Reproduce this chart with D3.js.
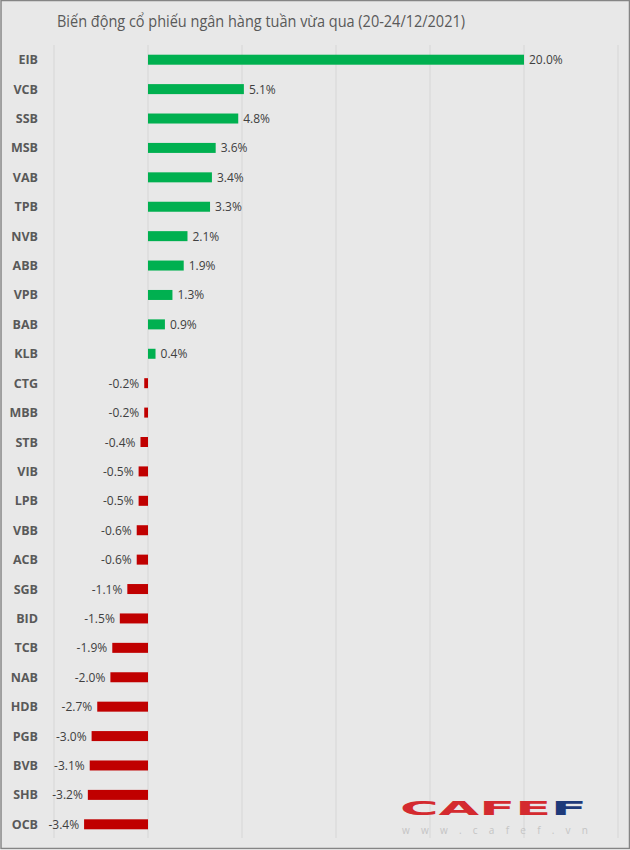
<html>
<head>
<meta charset="utf-8">
<script src="https://d3js.org/d3.v7.min.js"></script>
<style>
  body { margin: 0; background: #fff; }
  text { font-family: "Open Sans", sans-serif; }
</style>
</head>
<body>
<script>
var banks = ["EIB","VCB","SSB","MSB","VAB","TPB","NVB","ABB","VPB","BAB","KLB",
             "CTG","MBB","STB","VIB","LPB","VBB","ACB","SGB","BID","TCB","NAB",
             "HDB","PGB","BVB","SHB","OCB"];
var change = [20.0, 5.1, 4.8, 3.6, 3.4, 3.3, 2.1, 1.9, 1.3, 0.9, 0.4,
              -0.2, -0.2, -0.4, -0.5, -0.5, -0.6, -0.6, -1.1, -1.5, -1.9, -2.0,
              -2.7, -3.0, -3.1, -3.2, -3.4];
var gridTicks = [-5, 0, 5, 10, 15, 20, 25];

var width = 630, height = 850;

var svg = d3.select("body").append("svg")
  .attr("width", width)
  .attr("height", height);

svg.append("rect")
  .attr("x", 1).attr("y", 0.5)
  .attr("width", width - 1.5).attr("height", height - 2)
  .attr("fill", "#e8e8e8")
  .attr("stroke", "#858585")
  .attr("stroke-width", 1.5);

var x = d3.scaleLinear().domain([-5, 25]).range([54, 618]);
var y = d3.scalePoint().domain(banks).range([45, 839]).padding(0.5);
var barH = 10;

// gridlines
svg.append("g").selectAll("line")
  .data(gridTicks)
  .enter().append("line")
  .attr("x1", d => x(d)).attr("x2", d => x(d))
  .attr("y1", 45).attr("y2", 838)
  .attr("stroke", "#d6d6d6")
  .attr("stroke-width", 1);

// title
svg.append("text")
  .attr("x", 57).attr("y", 27)
  .attr("fill", "#595959")
  .attr("textLength", 408)
  .attr("lengthAdjust", "spacingAndGlyphs")
  .style("font-size", "17px")
  .text("Biến động cổ phiếu ngân hàng tuần vừa qua (20-24/12/2021)");

var data = banks.map((b, i) => ({ bank: b, v: change[i] }));
var fmt = v => v.toFixed(1) + "%";

// bars
svg.append("g").selectAll("rect")
  .data(data)
  .enter().append("rect")
  .attr("x", d => x(Math.min(0, d.v)))
  .attr("width", d => Math.abs(x(d.v) - x(0)))
  .attr("y", d => y(d.bank) - barH / 2)
  .attr("height", barH)
  .attr("fill", d => d.v >= 0 ? "#00b050" : "#c00000");

// value labels
svg.append("g").selectAll("text")
  .data(data)
  .enter().append("text")
  .attr("x", d => d.v >= 0 ? x(d.v) + 5 : x(d.v) - 5)
  .attr("y", d => y(d.bank) + 4.5)
  .attr("text-anchor", d => d.v >= 0 ? "start" : "end")
  .attr("fill", "#404040")
  .style("font-size", "12px")
  .text(d => fmt(d.v));

// category labels
svg.append("g").selectAll("text")
  .data(banks)
  .enter().append("text")
  .attr("x", 38)
  .attr("y", d => y(d) + 4.5)
  .attr("text-anchor", "end")
  .attr("fill", "#595959")
  .style("font-size", "12.5px")
  .style("font-weight", "bold")
  .text(d => d);

// logo
var brand = svg.append("text")
  .attr("x", 400).attr("y", 815)
  .attr("textLength", 187)
  .attr("lengthAdjust", "spacingAndGlyphs")
  .style("font-family", "'DejaVu Sans', sans-serif")
  .style("font-size", "19.5px")
  .style("font-weight", "bold");
brand.append("tspan").attr("fill", "#d42a2f").text("CAFE");
brand.append("tspan").attr("fill", "#1e3a7a").text("F");
svg.append("text")
  .attr("x", 402).attr("y", 834)
  .attr("fill", "#c4c4c4")
  .attr("textLength", 186)
  .style("font-size", "10px")
  .text("www.cafef.vn");
</script>
</body>
</html>
